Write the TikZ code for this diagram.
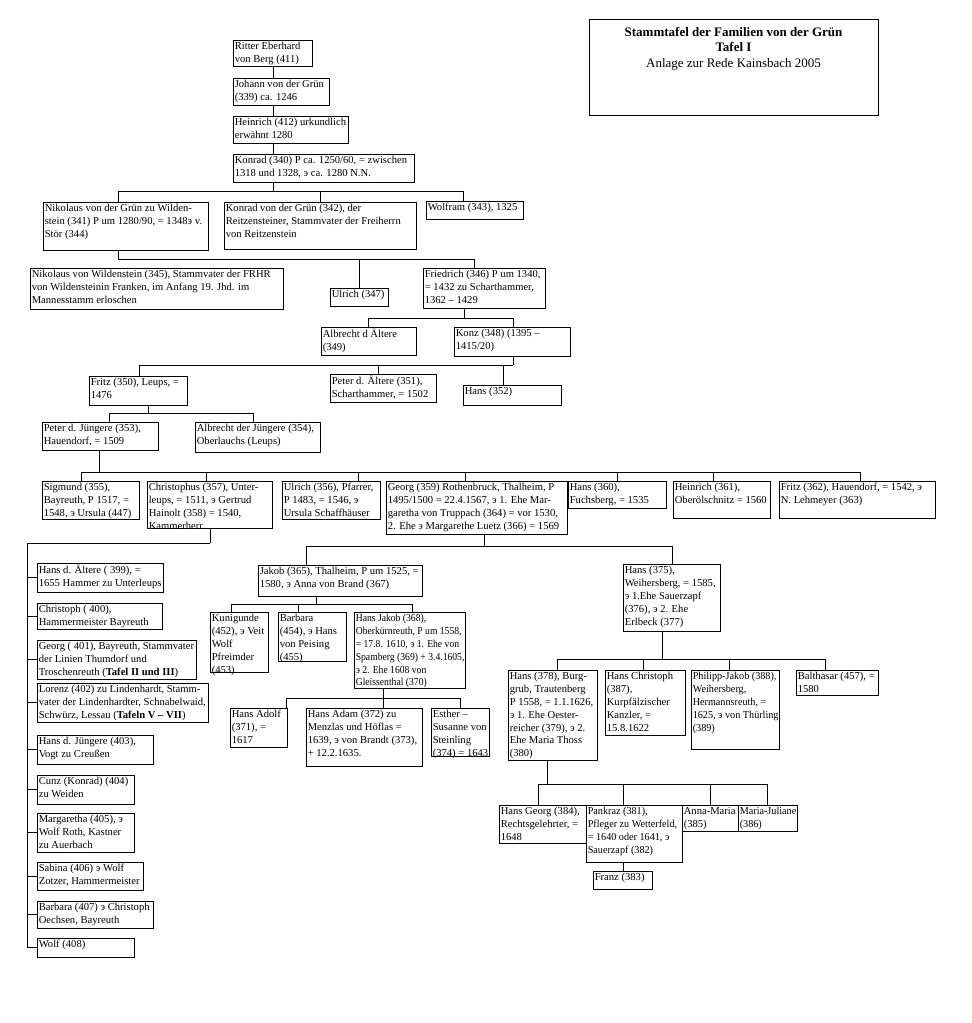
\documentclass[tikz,border=0pt]{standalone}
\usepackage{fontspec}
\setmainfont{Liberation Serif}
\newfontfamily\narrowA[FakeStretch=0.91]{Liberation Serif}
\newfontfamily\narrowB[FakeStretch=0.96]{Liberation Serif}
\tikzset{
  famline/.style={draw=black, line width=0.9pt, line cap=rect},
  fbox/.style={draw=black, line width=0.9pt, fill=white, anchor=north west, inner sep=0pt, outer sep=0pt},
  ftxt/.style={anchor=north west, inner sep=0pt, align=left, font=\fontsize{10.6}{12.9}\selectfont},
  smalltxt/.style={font=\narrowA\fontsize{10.6}{12.9}\selectfont},
  midtxt/.style={font=\narrowB\fontsize{10.6}{12.9}\selectfont},
}
\newcommand\famnode[7][]{%
  \node[fbox, minimum width=#5pt, minimum height=#6pt] (#2) at (#3,#4) {};
  \node[ftxt,#1] (#2t) at ([xshift=1.6pt,yshift=-1.9pt]#2.north west) {#7};
}
\newcommand\parentdrop[3]{\draw[famline] (#1.south -| #2,0) -- (#3 -| #2,0);}
\newcommand\childdrop[3]{\draw[famline] (#1.north -| #2,0) -- (#3 -| #2,0);}
\newcommand\fambar[3]{\draw[famline] (#1 -| #2,0) -- (#1 -| #3,0);}
\begin{document}
\begin{tikzpicture}[x=1pt,y=-1pt]
\useasboundingbox[fill=white] (0,0) rectangle (972,1023);

% title
\node[fbox, minimum width=289pt, minimum height=96pt] (T) at (589,19) {};
\node[anchor=north, align=center, inner sep=0pt, font=\fontsize{13}{15.5}\selectfont] (Tt) at (733.5,27)
  {\textbf{Stammtafel der Familien von der Grün}\\\textbf{Tafel I}\\Anlage zur Rede Kainsbach 2005};

% bar coordinates
\coordinate (bar1) at (0,191);
\coordinate (bar2) at (0,259);
\coordinate (bar3) at (0,318);
\coordinate (bar4) at (0,365);
\coordinate (bar5) at (0,413);
\coordinate (bar6) at (0,472);
\coordinate (bar7) at (0,543);
\coordinate (bar8) at (0,546);
\coordinate (bar9) at (0,604);
\coordinate (bar10) at (0,698);
\coordinate (bar11) at (0,659);
\coordinate (bar12) at (0,784);
\coordinate (vl) at (27,0);

% top chain
\famnode{A1}{233}{40}{79}{26}{Ritter Eberhard\\von Berg (411)}
\famnode{A2}{233}{78}{96}{27}{Johann von der Grün\\(339) ca. 1246}
\famnode{A3}{233}{116}{115}{27}{Heinrich (412) urkundlich\\erwähnt 1280}
\famnode{A4}{233}{154}{181}{28}{Konrad (340) P ca. 1250/60, = zwischen\\1318 und 1328, э ca. 1280 N.N.}
\draw[famline] (A1.south -| 273,0) -- (A2.north -| 273,0);
\draw[famline] (A2.south -| 273,0) -- (A3.north -| 273,0);
\draw[famline] (A3.south -| 273,0) -- (A4.north -| 273,0);

% row B
\famnode{B1}{43}{202}{165}{48}{Nikolaus von der Grün zu Wilden-\\stein (341) P um 1280/90, = 1348э v.\\Stör (344)}
\famnode{B2}{224}{202}{192}{47}{Konrad von der Grün (342), der\\Reitzensteiner, Stammvater der Freiherrn\\von Reitzenstein}
\famnode{B3}{426}{201}{97}{18}{Wolfram (343), 1325}
\parentdrop{A4}{273}{bar1}
\fambar{bar1}{118}{463}
\childdrop{B1}{118}{bar1}
\childdrop{B2}{320}{bar1}
\childdrop{B3}{463}{bar1}

% row C
\famnode{C1}{30}{268}{253}{41}{Nikolaus von Wildenstein (345), Stammvater der FRHR\\von Wildensteinin Franken, im Anfang 19. Jhd. im\\Mannesstamm erloschen}
\famnode{C2}{330}{288}{58}{18}{Ulrich (347)}
\famnode{C3}{423}{268}{122}{40}{Friedrich (346) P um 1340,\\= 1432 zu Scharthammer,\\1362 – 1429}
\parentdrop{B1}{118}{bar2}
\fambar{bar2}{118}{474}
\childdrop{C2}{359}{bar2}
\childdrop{C3}{474}{bar2}

% row D
\famnode{D1}{321}{327}{95}{28}{Albrecht d Ältere\\(349)}
\famnode{D2}{454}{327}{116}{29}{Konz (348) (1395 –\\1415/20)}
\parentdrop{C3}{464}{bar3}
\fambar{bar3}{368}{513}
\childdrop{D1}{368}{bar3}
\childdrop{D2}{513}{bar3}

% row E
\famnode{E1}{89}{376}{98}{29}{Fritz (350), Leups, =\\1476}
\famnode{E2}{330}{374}{106}{28}{Peter d. Ältere (351),\\Scharthammer, = 1502}
\famnode{E3}{463}{385}{98}{20}{Hans (352)}
\parentdrop{D2}{513}{bar4}
\fambar{bar4}{139}{513}
\childdrop{E1}{139}{bar4}
\childdrop{E2}{378}{bar4}
\childdrop{E3}{503}{bar4}

% row F
\famnode{F1}{42}{422}{116}{28}{Peter d. Jüngere (353),\\Hauendorf, = 1509}
\famnode{F2}{195}{422}{125}{30}{Albrecht der Jüngere (354),\\Oberlauchs (Leups)}
\parentdrop{E1}{148}{bar5}
\fambar{bar5}{109}{253}
\childdrop{F1}{109}{bar5}
\childdrop{F2}{253}{bar5}

% row G
\famnode{G1}{42}{481}{97}{38}{Sigmund (355),\\Bayreuth, P 1517, =\\1548, э Ursula (447)}
\famnode{G2}{147}{481}{125}{47}{Christophus (357), Unter-\\leups, = 1511, э Gertrud\\Hainolt (358) = 1540,\\Kammerherr}
\famnode{G3}{282}{481}{98}{38}{Ulrich (356), Pfarrer,\\P 1483, = 1546, э\\Ursula Schaffhäuser}
\famnode{G4}{386}{481}{181}{53}{Georg (359) Rothenbruck, Thalheim, P\\1495/1500 = 22.4.1567, э 1. Ehe Mar-\\garetha von Truppach (364) = vor 1530,\\2. Ehe э Margarethe Luetz (366) = 1569}
\famnode{G5}{568}{481}{98}{27}{Hans (360),\\Fuchsberg, = 1535}
\famnode{G6}{673}{481}{97}{37}{Heinrich (361),\\Oberölschnitz = 1560}
\famnode{G7}{779}{481}{156}{37}{Fritz (362), Hauendorf, = 1542, э\\N. Lehmeyer (363)}
\parentdrop{F1}{99}{bar6}
\fambar{bar6}{81}{860}
\childdrop{G1}{81}{bar6}
\childdrop{G2}{206}{bar6}
\childdrop{G3}{358}{bar6}
\childdrop{G4}{465}{bar6}
\childdrop{G5}{617}{bar6}
\childdrop{G6}{713}{bar6}
\childdrop{G7}{860}{bar6}

% left column
\famnode{L1}{37}{563}{126}{29}{Hans d. Ältere ( 399), =\\1655 Hammer zu Unterleups}
\famnode{L2}{37}{603}{125}{26}{Christoph ( 400),\\Hammermeister Bayreuth}
\famnode{L3}{37}{640}{159}{39}{Georg ( 401), Bayreuth, Stammvater\\der Linien Thumdorf und\\Troschenreuth (\textbf{Tafel II und III})}
\famnode{L4}{37}{683}{171}{39}{Lorenz (402) zu Lindenhardt, Stamm-\\vater der Lindenhardter, Schnabelwaid,\\Schwürz, Lessau (\textbf{Tafeln V – VII})}
\famnode{L5}{37}{735}{116}{29}{Hans d. Jüngere (403),\\Vogt zu Creußen}
\famnode{L6}{37}{775}{97}{29}{Cunz (Konrad) (404)\\zu Weiden}
\famnode{L7}{37}{813}{97}{39}{Margaretha (405), э\\Wolf Roth, Kastner\\zu Auerbach}
\famnode{L8}{37}{862}{106}{28}{Sabina (406) э Wolf\\Zotzer, Hammermeister}
\famnode{L9}{37}{901}{116}{27}{Barbara (407) э Christoph\\Oechsen, Bayreuth}
\famnode{L10}{37}{938}{97}{19}{Wolf (408)}
\parentdrop{G2}{210}{bar7}
\draw[famline] (bar7 -| 210,0) -- (bar7 -| vl) -- (L10.west -| vl);
\foreach \n in {L1,L2,L3,L4,L5,L6,L7,L8,L9,L10}
  \draw[famline] (\n.west) -- (\n.west -| vl);

% middle
\famnode{M1}{258}{565}{164}{31}{Jakob (365), Thalheim, P um 1525, =\\1580, э Anna von Brand (367)}
\famnode{R1}{623}{564}{97}{67}{Hans (375),\\Weihersberg, = 1585,\\э 1.Ehe Sauerzapf\\(376), э 2. Ehe\\Erlbeck (377)}
\parentdrop{G4}{484}{bar8}
\fambar{bar8}{306}{672}
\childdrop{M1}{306}{bar8}
\childdrop{R1}{672}{bar8}

\famnode{M2}{210}{612}{58}{60}{Kunigunde\\(452), э Veit\\Wolf\\Pfreimder\\(453)}
\famnode{M3}{278}{612}{68}{49}{Barbara\\(454), э Hans\\von Peising\\(455)}
\famnode[smalltxt]{M4}{354}{612}{111}{76}{Hans Jakob (368),\\Oberkürnreuth, P um 1558,\\= 17.8. 1610, э 1. Ehe von\\Spamberg (369) + 3.4.1605,\\э 2. Ehe 1608 von\\Gleissenthal (370)}
\parentdrop{M1}{316}{bar9}
\fambar{bar9}{231}{412}
\childdrop{M2}{231}{bar9}
\childdrop{M3}{298}{bar9}
\childdrop{M4}{412}{bar9}

\famnode{M5}{230}{708}{57}{39}{Hans Adolf\\(371), =\\1617}
\famnode{M6}{306}{708}{116}{58}{Hans Adam (372) zu\\Menzlas und Höflas =\\1639, э von Brandt (373),\\+ 12.2.1635.}
\famnode{M7}{431}{708}{58}{48}{Esther –\\Susanne von\\Steinling\\(374) = 1643}
\parentdrop{M4}{383}{bar10}
\fambar{bar10}{286}{460}
\childdrop{M5}{286}{bar10}
\childdrop{M6}{383}{bar10}
\childdrop{M7}{460}{bar10}

% right
\famnode{R2}{508}{670}{89}{90}{Hans (378), Burg-\\grub, Trautenberg\\P 1558, = 1.1.1626,\\э 1. Ehe Oester-\\reicher (379), э 2.\\Ehe Maria Thoss\\(380)}
\famnode{R3}{605}{670}{80}{65}{Hans Christoph\\(387),\\Kurpfälzischer\\Kanzler, =\\15.8.1622}
\famnode[midtxt]{R4}{691}{670}{88}{79}{Philipp-Jakob (388),\\Weihersberg,\\Hermannsreuth, =\\1625, э von Thürling\\(389)}
\famnode{R5}{796}{670}{82}{25}{Balthasar (457), =\\1580}
\parentdrop{R1}{662}{bar11}
\fambar{bar11}{557}{825}
\childdrop{R2}{557}{bar11}
\childdrop{R3}{643}{bar11}
\childdrop{R4}{729}{bar11}
\childdrop{R5}{825}{bar11}

\famnode{R6}{499}{805}{87}{38}{Hans Georg (384),\\Rechtsgelehrter, =\\1648}
\famnode[midtxt]{R7}{586}{805}{96}{57}{Pankraz (381),\\Pfleger zu Wetterfeld,\\= 1640 oder 1641, э\\Sauerzapf (382)}
\famnode{R8}{682}{805}{56}{26}{Anna-Maria\\(385)}
\famnode[midtxt]{R9}{738}{805}{59}{26}{Maria-Juliane\\(386)}
\parentdrop{R2}{547}{bar12}
\fambar{bar12}{538}{767}
\childdrop{R6}{538}{bar12}
\childdrop{R7}{623}{bar12}
\childdrop{R8}{710}{bar12}
\childdrop{R9}{767}{bar12}

\famnode{R10}{593}{871}{59}{18}{Franz (383)}
\draw[famline] (R7.south -| 623,0) -- (R10.north -| 623,0);
\end{tikzpicture}
\end{document}
